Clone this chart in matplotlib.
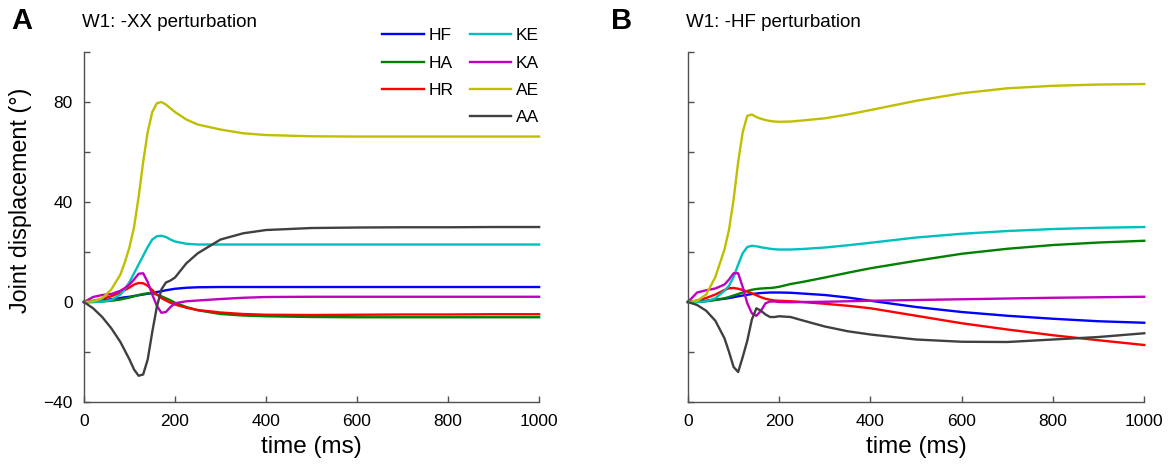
import matplotlib.pyplot as plt
from matplotlib.lines import Line2D

plt.rcParams['font.family'] = ['Liberation Sans', 'DejaVu Sans']

# time grid (ms), shared by both panels
t = [0, 20, 40, 60, 80, 90, 100, 110, 120, 130, 140, 150, 160, 170, 180, 190,
     200, 225, 250, 300, 350, 400, 500, 600, 700, 800, 900, 1000]

# Panel A: W1 -XX perturbation
hf_a = [0, 0.3, 0.7, 1.1, 1.6, 1.9, 2.1, 2.4, 2.7, 3.0, 3.3, 3.6, 4.0, 4.3, 4.7, 5.0,
        5.3, 5.7, 5.9, 6.0, 6.0, 6.0, 6.0, 6.0, 6.0, 6.0, 6.0, 6.0]
ha_a = [0, 0, 0.2, 0.5, 1.0, 1.4, 1.8, 2.3, 2.8, 3.2, 3.5, 3.4, 3.0, 2.3, 1.5, 0.7,
        -0.3, -2.0, -3.3, -4.8, -5.4, -5.7, -6.0, -6.1, -6.1, -6.1, -6.1, -6.1]
hr_a = [0, 0.5, 1.3, 2.3, 3.8, 4.8, 5.8, 7.0, 7.6, 7.5, 6.5, 4.8, 3.0, 1.6, 0.6, -0.3,
        -1.0, -2.3, -3.2, -4.2, -4.8, -5.1, -5.2, -5.1, -5.0, -5.0, -4.9, -4.9]
ke_a = [0, 0, 0.2, 0.8, 3.0, 5.2, 8.0, 11.5, 15.0, 18.5, 22.0, 25.0, 26.3, 26.5, 26.0, 25.0,
        24.2, 23.3, 23.0, 23.0, 23.0, 23.0, 23.0, 23.0, 23.0, 23.0, 23.0, 23.0]
ka_a = [0, 2.0, 2.8, 3.2, 4.5, 5.6, 7.0, 9.0, 11.3, 11.5, 8.0, 3.0, -1.5, -4.3, -4.0, -2.0,
        -0.5, 0.3, 0.6, 1.2, 1.7, 2.0, 2.1, 2.1, 2.1, 2.1, 2.1, 2.1]
ae_a = [0, 0.3, 1.5, 5.0, 11.0, 16.0, 22.0, 30.0, 42.0, 56.0, 68.0, 76.0, 79.5, 80.0, 79.0, 77.5,
        76.0, 73.0, 71.0, 69.0, 67.5, 66.8, 66.3, 66.2, 66.2, 66.2, 66.2, 66.2]
aa_a = [0, -2.5, -6.0, -10.5, -16.0, -19.5, -23.0, -27.0, -29.5, -29.0, -23.0, -12.0, -2.0, 5.0, 7.8, 8.6,
        9.8, 15.5, 19.5, 25.0, 27.5, 28.8, 29.6, 29.8, 29.9, 29.9, 30.0, 30.0]

# Panel B: W1 -HF perturbation
hf_b = [0, 0.2, 0.5, 0.9, 1.3, 1.6, 1.9, 2.3, 2.6, 2.9, 3.2, 3.4, 3.6, 3.7, 3.8, 3.8,
        3.8, 3.7, 3.4, 2.8, 1.8, 0.5, -2.0, -4.0, -5.5, -6.7, -7.7, -8.3]
ha_b = [0, 0, 0.3, 0.8, 1.5, 2.0, 2.6, 3.2, 3.8, 4.4, 4.9, 5.2, 5.4, 5.5, 5.6, 5.8,
        6.1, 7.2, 8.0, 9.8, 11.7, 13.5, 16.5, 19.3, 21.3, 22.8, 23.8, 24.5]
hr_b = [0, 0.6, 1.6, 3.0, 4.8, 5.5, 5.6, 5.3, 4.8, 4.2, 3.5, 2.7, 1.9, 1.3, 0.9, 0.6,
        0.5, 0.3, 0, -0.7, -1.5, -2.5, -5.5, -8.5, -11.0, -13.3, -15.3, -17.2]
ke_b = [0, 0, 0.3, 1.5, 4.5, 6.5, 10.0, 15.0, 19.5, 22.0, 22.5, 22.3, 21.9, 21.6, 21.3, 21.1,
        21.0, 21.0, 21.2, 21.8, 22.7, 23.7, 25.8, 27.3, 28.4, 29.2, 29.7, 30.0]
ka_b = [0, 3.8, 4.7, 5.4, 7.0, 9.0, 11.5, 11.5, 6.0, -0.5, -4.5, -5.5, -3.5, -0.5, 0.2, 0.2,
        0, -0.1, 0, 0.1, 0.3, 0.5, 0.8, 1.1, 1.4, 1.7, 1.9, 2.1]
ae_b = [0, 0.5, 3.0, 10.0, 21.0, 29.0, 41.0, 56.0, 68.0, 74.5, 75.0, 74.0, 73.3, 72.8, 72.4, 72.2,
        72.1, 72.2, 72.6, 73.5, 75.0, 76.8, 80.5, 83.5, 85.5, 86.5, 87.0, 87.2]
aa_b = [0, -1.2, -3.5, -7.5, -14.5, -20.0, -26.0, -28.0, -22.0, -15.5, -7.0, -2.5, -3.5, -5.0, -6.0, -6.0,
        -5.7, -6.0, -7.3, -9.8, -11.7, -13.0, -15.0, -15.9, -16.0, -15.0, -14.0, -12.5]

names = ['HF', 'HA', 'HR', 'KE', 'KA', 'AE', 'AA']
colors = ['#0000ff', '#008000', '#ff0000', '#00bfbf', '#bf00bf', '#bfbf00', '#404040']
series_a = [hf_a, ha_a, hr_a, ke_a, ka_a, ae_a, aa_a]
series_b = [hf_b, ha_b, hr_b, ke_b, ka_b, ae_b, aa_b]

fig = plt.figure(figsize=(11.73, 4.71), dpi=100)
ax1 = fig.add_axes([0.0716, 0.1465, 0.388, 0.743])
ax2 = fig.add_axes([0.5865, 0.1465, 0.389, 0.743])

spine_col = '#505050'
for ax, series in [(ax1, series_a), (ax2, series_b)]:
    for name, col, y in zip(names, colors, series):
        ax.plot(t, y, color=col, lw=1.7, label=name, clip_on=False)
    ax.set_xlim(0, 1000)
    ax.set_ylim(-40, 100)
    ax.set_xticks([0, 200, 400, 600, 800, 1000])
    ax.set_yticks([-40, -20, 0, 20, 40, 60, 80, 100])
    ax.spines['top'].set_visible(False)
    ax.spines['right'].set_visible(False)
    for s in ['left', 'bottom']:
        ax.spines[s].set_color(spine_col)
        ax.spines[s].set_linewidth(1.0)
    ax.tick_params(direction='in', length=4, width=1, color=spine_col,
                   labelsize=12.5)
    ax.tick_params(axis='y', pad=8)
    ax.tick_params(axis='x', pad=9)
    ax.set_xlabel('time (ms)', fontsize=17.5, labelpad=5)

ax1.set_yticklabels(['\u221240', '', '0', '', '40', '', '80', ''])
ax2.set_yticklabels([])
ax1.set_ylabel('Joint displacement (°)', fontsize=16.8)
ax1.yaxis.set_label_coords(-0.114, 0.577)

# legend: 3 entries in first column, 4 in second
h = [Line2D([], [], color=c, lw=1.7) for c in colors]
blank = Line2D([], [], color='none')
ax1.legend([h[0], h[1], h[2], blank, h[3], h[4], h[5], h[6]],
           ['HF', 'HA', 'HR', '', 'KE', 'KA', 'AE', 'AA'],
           ncol=2, frameon=False, fontsize=12.5, handlelength=2.4,
           labelspacing=0.7, columnspacing=0.95, handletextpad=0.25,
           loc='upper left', bbox_to_anchor=(0.64, 1.088),
           borderaxespad=0)

fig.text(0.010, 0.955, 'A', fontsize=21, fontweight='bold', va='center')
fig.text(0.070, 0.953, 'W1: -XX perturbation', fontsize=13.5, va='center')
fig.text(0.521, 0.955, 'B', fontsize=21, fontweight='bold', va='center')
fig.text(0.585, 0.953, 'W1: -HF perturbation', fontsize=13.5, va='center')

fig.savefig('out.png', dpi=100)
